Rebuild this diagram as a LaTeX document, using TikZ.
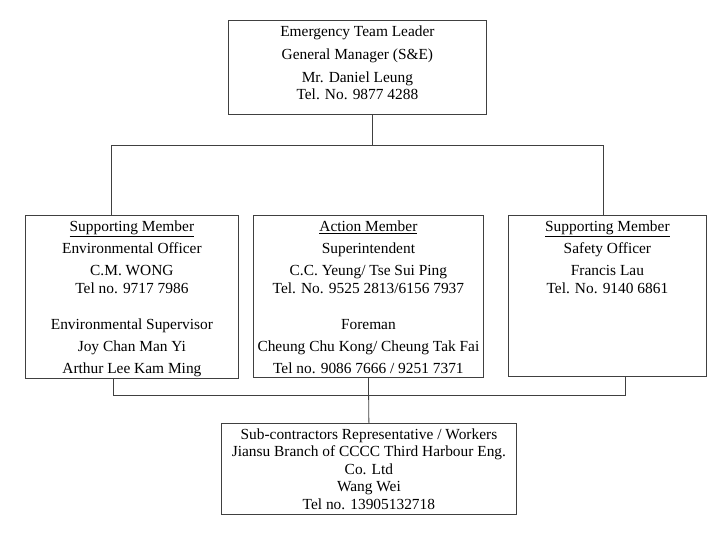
\documentclass[tikz,border=0pt]{standalone}
\usepackage{fontspec}
\setmainfont{Liberation Serif}
\begin{document}
\begin{tikzpicture}[x=1pt, y=-1pt, thick, font=\fontsize{15.4}{17.6}\selectfont,
    box/.style={draw=black!75, line width=0.8pt, inner sep=0pt, anchor=north west},
    wire/.style={draw=black!75, line width=0.8pt}]
        \useasboundingbox (0,0) rectangle (719,546);

                \node[box] at (228, 20) (leader) {\parbox[t][94pt][t]{258pt}{\centering\vspace*{5.6pt}%
                    Emergency Team Leader\\[5.6pt]
                    General Manager (S\&E)\\[4.8pt]
                    Mr. Daniel Leung\\
                    Tel. No. 9877 4288}};
                \node[box] at (25, 215) (envbox) {\parbox[t][163pt][t]{213pt}{\centering\vspace*{5.6pt}%
                    \underline{Supporting Member}\\[4.4pt]
                    Environmental Officer\\[4.4pt]
                    C.M. WONG\\
                    Tel no. 9717 7986\\[18.5pt]
                    Environmental Supervisor\\[5pt]
                    Joy Chan Man Yi\\[4.4pt]
                    Arthur Lee Kam Ming}};
                \node[box] at (253, 215) (actbox) {\parbox[t][162pt][t]{230pt}{\centering\vspace*{5.6pt}%
                    \underline{Action Member}\\[4.4pt]
                    Superintendent\\[4.4pt]
                    C.C. Yeung/ Tse Sui Ping\\
                    Tel. No. 9525 2813/6156 7937\\[18.5pt]
                    Foreman\\[5pt]
                    Cheung Chu Kong/ Cheung Tak Fai\\[4.4pt]
                    Tel no. 9086 7666 / 9251 7371}};
                \node[box] at (508, 215) (safebox) {\parbox[t][161pt][t]{198pt}{\centering\vspace*{5.6pt}%
                    \underline{Supporting Member}\\[4.4pt]
                    Safety Officer\\[4.4pt]
                    Francis Lau\\
                    Tel. No. 9140 6861}};
                \node[box] at (221, 423) (subbox) {\parbox[t][91pt][t]{295pt}{\centering\vspace*{5pt}%
                    Sub-contractors Representative / Workers\\
                    Jiansu Branch of CCCC Third Harbour Eng.\\
                    Co. Ltd\\
                    Wang Wei\\
                    Tel no. 13905132718}};

                \coordinate (topmid) at (372, 145);
                \coordinate (topL) at (111, 145);
                \coordinate (topR) at (603, 145);
                \coordinate (lowL) at (113, 395);
                \coordinate (lowR) at (625, 395);

            \path[wire] (leader.south -| topmid) -- (topmid);
            \path[wire] (envbox.north -| topL) |- (topR) -- (safebox.north -| topR);
            \path[wire] (envbox.south -| lowL) |- (lowR) -- (safebox.south -| lowR);
            \path[wire] (actbox.south) -- (subbox.north);

            \end{tikzpicture}
\end{document}
